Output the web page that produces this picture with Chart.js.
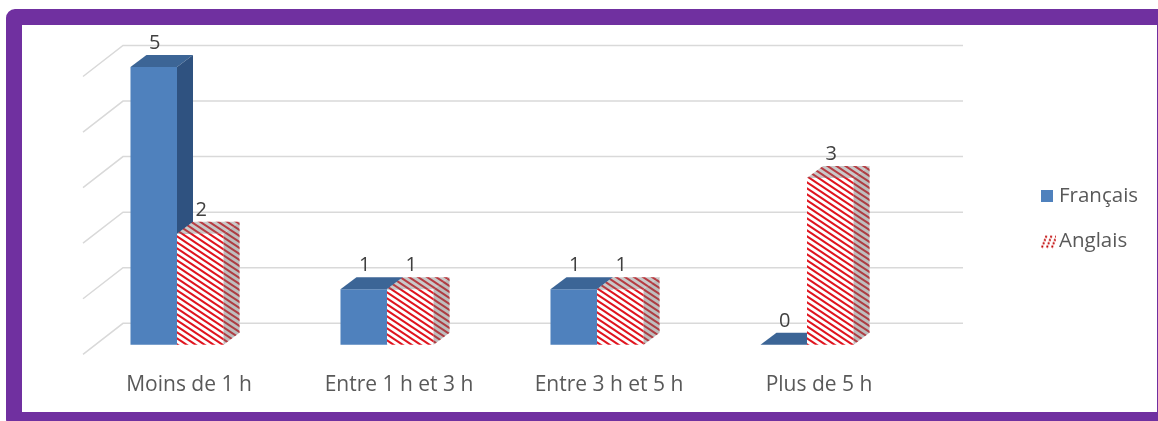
<!DOCTYPE html>
<html>
<head>
<meta charset="utf-8">
<script src="https://cdn.jsdelivr.net/npm/chart.js@4.4.0/dist/chart.umd.min.js"></script>
<style>
    html, body { margin: 0; padding: 0; background: #fff; overflow: hidden; }
    body { width: 1158px; height: 421px; position: relative; }
    .frame {
        position: absolute; left: 6px; top: 9px;
        width: 1135px; height: 387px;
        border: 16px solid #7030A0; border-radius: 9px;
        background: #fff;
        overflow: hidden;
    }
    #chart { display: block; }
</style>
</head>
<body>
<div class="frame"><canvas id="chart" width="1135" height="416"></canvas></div>
<script>
const categories = ["Moins de 1 h", "Entre 1 h et 3 h", "Entre 3 h et 5 h", "Plus de 5 h"];
const seriesNames = ["Français", "Anglais"];
const francais = [5, 1, 1, 0];
const anglais = [2, 1, 1, 3];
const yTicks = [0, 1, 2, 3, 4, 5];

Chart.defaults.font.family = "'Open Sans', sans-serif";

// depth of each bar (top / side faces)
const DX = 16, DY = -12;

// red "\" hatch used on the Anglais bars
function makeHatch() {
    const c = document.createElement("canvas");
    c.width = 9;
    c.height = 6;
    const g = c.getContext("2d");
    g.fillStyle = "#fff";
    g.fillRect(0, 0, 9, 6);
    g.strokeStyle = "#E0141E";
    g.lineWidth = 2;
    for (let n = -1; n <= 1; n++) {
        g.beginPath();
        g.moveTo(-2, -2 * 2 / 3 + n * 6);
        g.lineTo(11, 11 * 2 / 3 + n * 6);
        g.stroke();
    }
    return g.createPattern(c, "repeat");
}

function squareIcon(color) {
    const c = document.createElement("canvas");
    c.width = 12;
    c.height = 12;
    const g = c.getContext("2d");
    g.fillStyle = color;
    g.fillRect(0, 0, 12, 12);
    return c;
}

function hatchIcon() {
    const c = document.createElement("canvas");
    c.width = 15;
    c.height = 15;
    const g = c.getContext("2d");
    g.strokeStyle = "#C00000";
    g.lineWidth = 2;
    g.setLineDash([2, 1.5]);
    for (let k = 0; k < 3; k++) {
        g.beginPath();
        g.moveTo(1 + k * 5, 14);
        g.lineTo(6 + k * 5, 1);
        g.stroke();
    }
    return c;
}

const hatch = makeHatch();
const legendIcons = [squareIcon("#4F81BD"), hatchIcon()];

const faces = [
    { front: ["#4F81BD"], top: ["#3C6596"], side: ["#2F5280"] },
    { front: [hatch], top: [hatch, "rgba(120,120,120,0.40)"], side: [hatch, "rgba(110,110,110,0.45)"] }
];

function fillPoly(ctx, pts, fills) {
    fills.forEach(f => {
        ctx.beginPath();
        ctx.moveTo(pts[0][0], pts[0][1]);
        for (let i = 1; i < pts.length; i++) ctx.lineTo(pts[i][0], pts[i][1]);
        ctx.closePath();
        ctx.fillStyle = f;
        ctx.fill();
    });
}

function drawBox(ctx, bar, f) {
    const left = bar.x - bar.width / 2;
    const right = bar.x + bar.width / 2;
    const top = bar.y;
    const base = bar.base;
    if (base - top > 0) {
        fillPoly(ctx, [[left, top], [right, top], [right, base], [left, base]], f.front);
    }
    fillPoly(ctx, [[left, top], [right, top], [right + DX, top + DY], [left + DX, top + DY]], f.top);
    if (base - top > 0) {
        fillPoly(ctx, [[right, top], [right + DX, top + DY], [right + DX, base + DY], [right, base]], f.side);
    }
}

const bars3d = {
    id: "bars3d",
    beforeDatasetsDraw(chart) {
        const ctx = chart.ctx;
        const area = chart.chartArea;
        const yScale = chart.scales.y;
        ctx.save();
        // floor and back wall gridlines
        ctx.strokeStyle = "#D9D9D9";
        ctx.lineWidth = 1.5;
        yTicks.forEach(v => {
            const py = yScale.getPixelForValue(v) - 21.5;
            ctx.beginPath();
            ctx.moveTo(area.left + 11, py + 31);
            ctx.lineTo(area.left + 51, py);
            ctx.lineTo(area.right + 51, py);
            ctx.stroke();
        });
        chart.data.datasets.forEach((ds, i) => {
            chart.getDatasetMeta(i).data.forEach(bar => drawBox(ctx, bar, faces[i]));
        });
        ctx.restore();
        return false;
    },
    afterDraw(chart) {
        const ctx = chart.ctx;
        const area = chart.chartArea;
        ctx.save();
        ctx.font = "20px 'Open Sans', sans-serif";
        // value labels
        ctx.fillStyle = "#404040";
        ctx.textAlign = "center";
        ctx.textBaseline = "alphabetic";
        chart.data.datasets.forEach((ds, i) => {
            chart.getDatasetMeta(i).data.forEach((bar, j) => {
                ctx.fillText(String(ds.data[j]), bar.x + 1, bar.y - 18);
            });
        });
        // legend
        ctx.font = "20.5px 'Open Sans', sans-serif";
        ctx.fillStyle = "#595959";
        ctx.textAlign = "left";
        ctx.textBaseline = "middle";
        const lx = area.right + 129;
        const ly = area.top + 129;
        seriesNames.forEach((name, i) => {
            const cy = ly + i * 45;
            const icon = legendIcons[i];
            ctx.drawImage(icon, lx, cy - icon.height / 2);
            ctx.fillText(name, lx + 18, cy);
        });
        ctx.restore();
    }
};

new Chart("chart", {
    type: "bar",
    data: {
        labels: categories,
        datasets: [
            { label: seriesNames[0], data: francais, backgroundColor: "#4F81BD" },
            { label: seriesNames[1], data: anglais, backgroundColor: "#E0141E" }
        ]
    },
    options: {
        responsive: false,
        animation: false,
        datasets: { bar: { barPercentage: 1, categoryPercentage: 0.443 } },
        layout: { padding: { left: 50, right: 245, top: 42, bottom: 15 } },
        plugins: { legend: { display: false }, tooltip: { enabled: false } },
        scales: {
            x: {
                grid: { display: false, drawTicks: false },
                border: { display: false },
                ticks: {
                    color: "#595959", font: { size: 21 },
                    padding: 28, labelOffset: 12, maxRotation: 0, minRotation: 0
                }
            },
            y: {
                display: false,
                min: 0,
                max: 5
            }
        }
    },
    plugins: [bars3d]
});
</script>
</body>
</html>
